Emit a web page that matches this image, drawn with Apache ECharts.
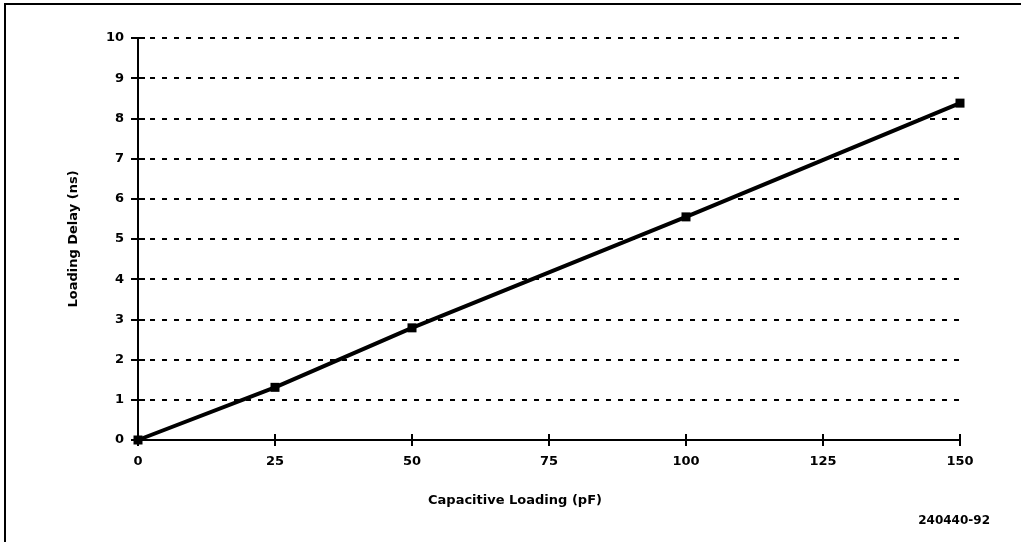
<!DOCTYPE html>
<html>
<head>
<meta charset="utf-8">
<script src="https://cdn.jsdelivr.net/npm/echarts@6/dist/echarts.min.js"></script>
<style>
  html, body { margin: 0; padding: 0; background: #fff; }
  #frame { position: absolute; left: 0; top: 0; width: 1021px; height: 542px; }
  #frame::before { content: ''; position: absolute; left: 4px; top: 3px; right: 0; bottom: 0;
    border-left: 2px solid #000; border-top: 2px solid #000; pointer-events: none; }
  #chart { width: 1021px; height: 542px; }
</style>
</head>
<body>
<div id="frame"><div id="chart"></div></div>
<script>
// capacitive loading (pF) vs loading delay (ns)
const loadPF  = [0, 25, 50, 100, 150];
const delayNS = [0, 1.31, 2.79, 5.55, 8.38];

const FONT = 'DejaVu Sans';
const chart = echarts.init(document.getElementById('chart'), null, { renderer: 'canvas' });

const axisLabel = { color: '#000', fontSize: 13, fontWeight: 'bold', fontFamily: FONT };
const nameStyle = { color: '#000', fontSize: 13, fontWeight: 'bold', fontFamily: FONT };

chart.setOption({
  animation: false,
  backgroundColor: 'transparent',
  grid: { left: 138, right: 61, top: 38, bottom: 102, containLabel: false },
  xAxis: [{
    type: 'value', min: 0, max: 150, interval: 25,
    name: 'Capacitive Loading (pF)', nameLocation: 'middle', nameGap: 54,
    nameTextStyle: Object.assign({ padding: [0, 68, 0, 0] }, nameStyle),
    axisLine: { lineStyle: { color: '#000', width: 2 } },
    axisTick: { length: 6, lineStyle: { color: '#000', width: 2 } },
    axisLabel: Object.assign({ margin: 15 }, axisLabel),
    splitLine: { show: false },
  }, {
    type: 'value', min: 0, max: 150, interval: 25, position: 'bottom',
    axisLine: { show: false },
    axisTick: { inside: true, length: 6, lineStyle: { color: '#000', width: 2 } },
    axisLabel: { show: false }, splitLine: { show: false },
  }],
  yAxis: [{
    type: 'value', min: 0, max: 10, interval: 1,
    name: 'Loading Delay (ns)', nameLocation: 'middle', nameGap: 58,
    nameTextStyle: nameStyle,
    axisLine: { show: true, lineStyle: { color: '#000', width: 2 } },
    axisTick: { show: true, length: 7, lineStyle: { color: '#000', width: 2 } },
    axisLabel: Object.assign({ margin: 14 }, axisLabel),
    splitLine: { lineStyle: { color: '#000', width: 2, type: [5, 7] } },
  }, {
    type: 'value', min: 0, max: 10, interval: 1, position: 'left',
    axisLine: { show: false },
    axisTick: { show: true, inside: true, length: 7, lineStyle: { color: '#000', width: 2 } },
    axisLabel: { show: false }, splitLine: { show: false },
  }],
  graphic: [{
    type: 'text', right: 31, top: 515,
    style: { text: '240440-92', fill: '#000', font: 'bold 12px "DejaVu Sans"' },
  }],
  series: [{
    type: 'line',
    data: loadPF.map((x, i) => [x, delayNS[i]]),
    symbol: 'rect', symbolSize: 9, showSymbol: true,
    lineStyle: { color: '#000', width: 4 },
    itemStyle: { color: '#000' },
    z: 5,
  }],
});
</script>
</body>
</html>
